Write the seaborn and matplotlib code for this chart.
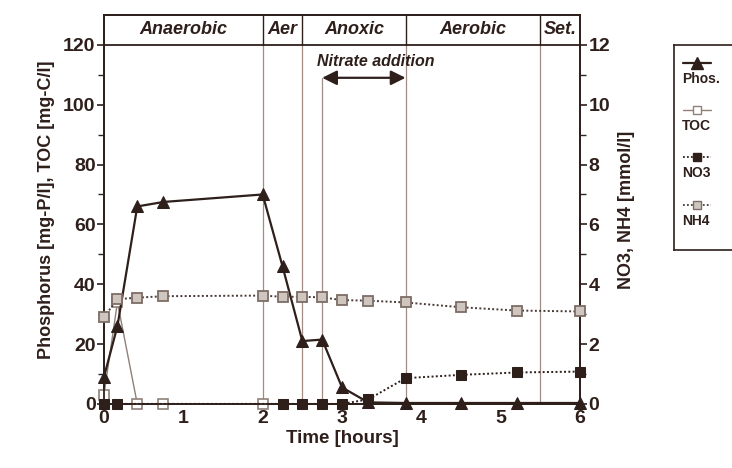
import numpy as np
import pandas as pd
import matplotlib
matplotlib.use("Agg")
import matplotlib.pyplot as plt
import seaborn as sns

# ---------------- data ----------------
time_phos = [0, 0.17, 0.42, 0.75, 2.0, 2.25, 2.5, 2.75, 3.0, 3.33, 3.8, 4.5, 5.2, 6.0]
phos = [9, 26, 66, 67.5, 70, 46, 21, 21.5, 5.5, 0.5, 0.3, 0.3, 0.3, 0.3]

time_toc = [0, 0.17, 0.42, 0.75, 2.0]
toc = [3, 34, 0, 0, 0]

time_no3 = [0, 0.17, 2.25, 2.5, 2.75, 3.0, 3.33, 3.8, 4.5, 5.2, 6.0]
no3 = [0, 0, 0, 0, 0, 0, 0.15, 0.86, 0.97, 1.05, 1.08]

time_nh4 = [0, 0.17, 0.42, 0.75, 2.0, 2.25, 2.5, 2.75, 3.0, 3.33, 3.8, 4.5, 5.2, 6.0]
nh4 = [2.9, 3.5, 3.55, 3.6, 3.62, 3.58, 3.58, 3.56, 3.47, 3.45, 3.39, 3.23, 3.12, 3.09]

phase_names = ["Anaerobic", "Aer", "Anoxic", "Aerobic", "Set."]
phase_bounds = [0, 2.0, 2.5, 3.8, 5.5, 6.0]
nitrate_start, nitrate_end = 2.75, 3.8
nitrate_label = "Nitrate addition"

legend_labels = ["Phos.", "TOC", "NO3", "NH4"]

left_ticks = [0, 20, 40, 60, 80, 100, 120]
right_ticks = [0, 2, 4, 6, 8, 10, 12]
x_ticks = [0, 1, 2, 3, 4, 5, 6]

# ---------------- style ----------------
sns.set_style("white")
plt.rcParams['font.family'] = ['Liberation Sans', 'DejaVu Sans']
plt.rcParams['font.weight'] = 'bold'
plt.rcParams['axes.labelweight'] = 'bold'

ink = '#2e1f1b'
grey = '#8f8079'
vline_c = '#a08c82'
nh4_face = '#cfc6c0'
nh4_edge = '#7d6d66'
dots = (0, (1, 1.2))

fig = plt.figure(figsize=(7.32, 4.68), dpi=100)
fig.patch.set_facecolor('white')
ax = fig.add_axes([0.142, 0.137, 0.7925 - 0.142, 0.968 - 0.137])
ax2 = ax.twinx()

ax.set_xlim(0, 6)
ax.set_ylim(0, 130)
ax2.set_ylim(0, 13)

# vertical phase lines (lower region)
for b in phase_bounds[1:-1]:
    ax.plot([b, b], [0, 120], color=vline_c, lw=0.9, zorder=1)
ax.plot([nitrate_start, nitrate_start], [0, 109], color=vline_c, lw=0.9, zorder=1)
# header band
ax.axhline(120, color=ink, lw=1.3, zorder=2)
for b in phase_bounds[1:-1]:
    ax.plot([b, b], [120, 130], color=ink, lw=1.0, zorder=2)
for i, name in enumerate(phase_names):
    cx = 0.5 * (phase_bounds[i] + phase_bounds[i + 1])
    ax.text(cx, 125, name, ha='center', va='center', fontsize=13,
            fontstyle='italic', fontweight='bold', color=ink)

# nitrate addition arrow
ax.annotate('', xy=(nitrate_start, 109), xytext=(nitrate_end, 109),
            arrowprops=dict(arrowstyle='<|-|>', color=ink, lw=1.6,
                            mutation_scale=22, shrinkA=0, shrinkB=0))
ax.text(3.42, 114.5, nitrate_label, ha='center', va='center', fontsize=11.5,
        fontstyle='italic', fontweight='bold', color=ink)

# ---------------- series ----------------
df_phos = pd.DataFrame({"t": time_phos, "v": phos})
df_toc = pd.DataFrame({"t": time_toc, "v": toc})
df_no3 = pd.DataFrame({"t": time_no3, "v": no3})
df_nh4 = pd.DataFrame({"t": time_nh4, "v": nh4})

sns.lineplot(data=df_toc, x="t", y="v", ax=ax, sort=False, errorbar=None,
             color=grey, lw=1.0, marker='s', markersize=6.5,
             markerfacecolor='white', markeredgecolor=grey, markeredgewidth=1.2,
             clip_on=False, zorder=3)
sns.lineplot(data=df_phos, x="t", y="v", ax=ax, sort=False, errorbar=None,
             color=ink, lw=1.6, marker='^', markersize=9,
             markerfacecolor=ink, markeredgecolor=ink, clip_on=False, zorder=5)
sns.lineplot(data=df_nh4, x="t", y="v", ax=ax2, sort=False, errorbar=None,
             color='#4a3a35', lw=1.4, ls=dots, marker='s', markersize=7,
             markerfacecolor=nh4_face, markeredgecolor=nh4_edge, markeredgewidth=1.3,
             clip_on=False, zorder=4)
sns.lineplot(data=df_no3, x="t", y="v", ax=ax2, sort=False, errorbar=None,
             color=ink, lw=1.4, ls=dots, marker='s', markersize=6.5,
             markerfacecolor=ink, markeredgecolor=ink, clip_on=False, zorder=4)

# ---------------- axes ----------------
ax.set_xticks(x_ticks)
ax.set_xticks(np.arange(0.5, 6, 1.0), minor=True)
ax.set_yticks(left_ticks)
ax.set_yticks(np.arange(10, 120, 20), minor=True)
ax2.set_yticks(right_ticks)
ax2.set_yticks(np.arange(1, 12, 2), minor=True)

for a in (ax, ax2):
    for s in a.spines.values():
        s.set_color(ink)
        s.set_linewidth(1.3)
    a.tick_params(colors=ink, labelsize=14)

ax.tick_params(axis='x', which='major', direction='inout', length=7, width=1.2, pad=1)
ax.tick_params(axis='x', which='minor', direction='inout', length=5, width=1.0)
ax.tick_params(axis='y', which='major', direction='out', length=5, width=1.2, pad=1)
ax.tick_params(axis='y', which='minor', direction='out', length=4, width=1.0)
ax2.tick_params(axis='y', which='major', direction='out', length=5, width=1.2, pad=1)
ax2.tick_params(axis='y', which='minor', direction='out', length=4, width=1.0)
for lab in ax.get_xticklabels() + ax.get_yticklabels() + ax2.get_yticklabels():
    lab.set_fontweight('bold')

ax.set_xlabel("Time [hours]", fontsize=13.5, fontweight='bold', color=ink, labelpad=2)
ax.set_ylabel("Phosphorus [mg-P/l], TOC [mg-C/l]", fontsize=13, fontweight='bold',
              color=ink, labelpad=6)
ax2.set_ylabel("NO3, NH4 [mmol/l]", fontsize=13, fontweight='bold', color=ink, labelpad=6)

# ---------------- legend box ----------------
lax = fig.add_axes([674 / 732, 1 - 250 / 468, 0.2, 205 / 468])
lax.set_xlim(674, 674 + 0.2 * 732)
lax.set_ylim(250, 45)
lax.set_xticks([])
lax.set_yticks([])
for s in lax.spines.values():
    s.set_color(ink)
    s.set_linewidth(1.2)
styles = [
    dict(color=ink, lw=1.6, marker='^', markersize=8, markerfacecolor=ink, markeredgecolor=ink),
    dict(color=grey, lw=1.0, marker='s', markersize=6, markerfacecolor='white',
         markeredgecolor=grey),
    dict(color=ink, lw=1.3, ls=dots, marker='s', markersize=6,
         markerfacecolor=ink, markeredgecolor=ink),
    dict(color='#4a3a35', lw=1.3, ls=dots, marker='s', markersize=6,
         markerfacecolor=nh4_face, markeredgecolor=nh4_edge),
]
ys_line = [62.7, 110, 157, 205]
ys_text = [79, 126, 173, 221]
for lab, st, yl, yt in zip(legend_labels, styles, ys_line, ys_text):
    lax.plot([683, 697, 711], [yl, yl, yl], markevery=[1], **st)
    lax.text(682, yt, lab, ha='left', va='center', fontsize=10, fontweight='bold', color=ink)

fig.savefig("out.png", dpi=100, facecolor='white')
